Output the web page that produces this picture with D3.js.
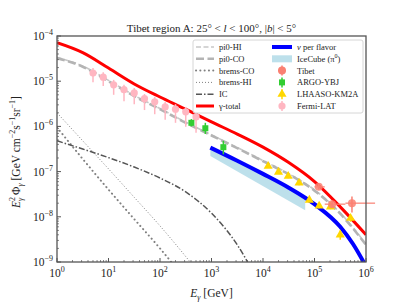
<!DOCTYPE html>
<html>
<head>
<meta charset="utf-8">
<script src="https://cdn.jsdelivr.net/npm/d3@7"></script>
<style>
body { margin: 0; background: #fff; }
text { font-family: "Liberation Serif", "DejaVu Serif", serif; fill: #222; }
</style>
</head>
<body>
<script>
// model curves, energy in GeV, E^2 flux in GeV cm^-2 s^-1 sr^-1
var curve_E   = [1, 3.16, 10, 31.6, 100, 316, 1000, 3162, 1e4, 3.16e4, 1e5, 3.16e5, 1e6];
var total     = [7.08e-5, 4.27e-5, 1.95e-5, 8.7e-6, 4.47e-6, 2.4e-6, 1.26e-6, 6.76e-7, 3.47e-7, 1.58e-7, 6.0e-8, 1.66e-8, 4.0e-9];
var pi0_CO    = [3.24e-5, 2.09e-5, 1.0e-5, 4.68e-6, 2.4e-6, 1.2e-6, 6.3e-7, 3.3e-7, 1.7e-7, 8.7e-8, 3.8e-8, 1.17e-8, 2.4e-9];
var pi0_HI    = [3.35e-5, 2.16e-5, 1.04e-5, 4.85e-6, 2.48e-6, 1.24e-6, 6.5e-7, 3.4e-7, 1.76e-7, 9.0e-8, 3.95e-8, 1.22e-8, 2.5e-9];

var brems_E   = [1, 3.16, 10, 31.6, 100, 316, 1000];
var brems_HI  = [2.0e-6, 4.8e-7, 1.15e-7, 2.7e-8, 6.3e-9, 1.32e-9, 2.5e-10];
var brems_CO  = [9.5e-7, 1.9e-7, 4.0e-8, 8.9e-9, 2.0e-9, 4.0e-10, 8e-11];

var ic_E      = [1, 3.16, 10, 31.6, 100, 316, 1000, 3162, 1e4];
var ic        = [4.8e-7, 3.16e-7, 2.04e-7, 1.26e-7, 7.2e-8, 3.55e-8, 1.2e-8, 2.4e-9, 2.2e-10];

var nu_E      = [950, 3162, 1e4, 3.16e4, 1e5, 3.16e5, 5.6e5, 1e6];
var nu        = [3.4e-7, 1.74e-7, 8.9e-8, 4.4e-8, 1.9e-8, 6.0e-9, 2.5e-9, 8e-10];

var icecube_E  = [950, 6.6e4];
var icecube_hi = [3.4e-7, 2.75e-8];
var icecube_lo = [2.2e-7, 1.4e-8];

// data points
var fermi_E  = [5.0, 7.9, 12.6, 20, 31.6, 50, 79, 126, 200, 316, 501];
var fermi    = [1.51e-5, 1.23e-5, 8.3e-6, 6.5e-6, 5.5e-6, 4.1e-6, 3.5e-6, 2.7e-6, 2.4e-6, 2.1e-6, 1.62e-6];
var fermi_hi = [1.95e-5, 1.58e-5, 1.07e-5, 8.3e-6, 7.1e-6, 5.2e-6, 4.5e-6, 3.5e-6, 3.1e-6, 2.7e-6, 2.1e-6];
var fermi_lo = [9.5e-6, 7.8e-6, 5.0e-6, 3.6e-6, 3.1e-6, 2.3e-6, 1.86e-6, 1.41e-6, 1.2e-6, 9.8e-7, 7.2e-7];

var argo_E  = [407, 759, 1700];
var argo    = [1.2e-6, 9.1e-7, 3.47e-7];
var argo_hi = [1.45e-6, 1.2e-6, 4.8e-7];
var argo_lo = [1.0e-6, 6.8e-7, 2.4e-7];

var lhaaso_E  = [12600, 20000, 30900, 50100, 79400, 123000, 204000, 316000, 501000];
var lhaaso    = [1.32e-7, 9.8e-8, 7.9e-8, 5.6e-8, 2.34e-8, 1.74e-8, 1.66e-8, 4.0e-9, 9.3e-9];
var lhaaso_hi = [1.45e-7, 1.08e-7, 8.7e-8, 6.2e-8, 2.6e-8, 1.95e-8, 1.85e-8, 5.0e-9, 1.1e-8];
var lhaaso_lo = [1.2e-7, 8.9e-8, 7.1e-8, 5.0e-8, 2.1e-8, 1.55e-8, 1.47e-8, 3.1e-9, 7.8e-9];

var tibet_E    = [121000, 220000, 534000];
var tibet      = [4.6e-8, 1.9e-8, 2.0e-8];
var tibet_hi   = [5.3e-8, 2.3e-8, 2.8e-8];
var tibet_lo   = [4.0e-8, 1.6e-8, 1.25e-8];
var tibet_Elo  = [1e5, 1.58e5, 3.98e5];
var tibet_Ehi  = [1.58e5, 3.98e5, 1.5e6];

var x_ticks = [1, 10, 100, 1e3, 1e4, 1e5, 1e6];
var y_ticks = [1e-9, 1e-8, 1e-7, 1e-6, 1e-5, 1e-4];

var margin = {top: 36, left: 57},
    width = 309,
    height = 226;

var svg = d3.select("body").append("svg")
    .attr("width", 407)
    .attr("height", 305);

var g = svg.append("g")
    .attr("transform", "translate(" + margin.left + "," + margin.top + ")");

var x_scale = d3.scaleLog().domain([1, 1e6]).range([0, width]),
    y_scale = d3.scaleLog().domain([1e-9, 1e-4]).range([height, 0]);

g.append("clipPath").attr("id", "plot")
  .append("rect").attr("width", width).attr("height", height);

var zip = function(a, b) { return a.map(function(v, i) { return [v, b[i]]; }); };

var line = d3.line()
    .x(function(d) { return x_scale(d[0]); })
    .y(function(d) { return y_scale(d[1]); })
    .curve(d3.curveMonotoneX);

var plot = g.append("g").attr("clip-path", "url(#plot)");

// IceCube band
var band = d3.area()
    .x(function(d) { return x_scale(d[0]); })
    .y0(function(d) { return y_scale(d[2]); })
    .y1(function(d) { return y_scale(d[1]); });
plot.append("path")
    .datum(icecube_E.map(function(e, i) { return [e, icecube_hi[i], icecube_lo[i]]; }))
    .attr("d", band)
    .style("fill", "#add8e6")
    .style("opacity", 0.8);

var curves = [
  {name: "pi0-HI",   E: curve_E, F: pi0_HI,   color: "#c8c8c8", w: 1.6, dash: "5,2.5"},
  {name: "pi0-CO",   E: curve_E, F: pi0_CO,   color: "#b4b4b4", w: 2.6, dash: "8,3.5"},
  {name: "brems-CO", E: brems_E, F: brems_CO, color: "#808080", w: 2,   dash: "0.1,4.2", cap: "round"},
  {name: "brems-HI", E: brems_E, F: brems_HI, color: "#808080", w: 1,   dash: "1,2"},
  {name: "IC",       E: ic_E,    F: ic,       color: "#555555", w: 1.5, dash: "6,2,1.5,2"},
  {name: "\u03b3-total", E: curve_E, F: total, color: "#ff0000", w: 3, dash: null},
  {name: "\u03bd per flavor", E: nu_E, F: nu, color: "#0000ff", w: 4, dash: null}
];

curves.forEach(function(c) {
  plot.append("path")
      .datum(zip(c.E, c.F))
      .attr("d", line)
      .style("fill", "none")
      .style("stroke", c.color)
      .style("stroke-width", c.w)
      .style("stroke-dasharray", c.dash)
      .style("stroke-linecap", c.cap || "butt");
});

// data points with error bars
function vbar(sel, E, hi, lo, color, w) {
  sel.selectAll(null).data(E).enter().append("line")
      .attr("x1", function(d) { return x_scale(d); })
      .attr("x2", function(d) { return x_scale(d); })
      .attr("y1", function(d, i) { return y_scale(hi[i]); })
      .attr("y2", function(d, i) { return y_scale(lo[i]); })
      .style("stroke", color).style("stroke-width", w);
}

var pts = g.append("g");

vbar(pts, fermi_E, fermi_hi, fermi_lo, "#ffb6c1", 1.5);
pts.selectAll(".fermi").data(fermi_E).enter().append("circle")
    .attr("class", "fermi")
    .attr("r", 3.6)
    .attr("cx", function(d) { return x_scale(d); })
    .attr("cy", function(d, i) { return y_scale(fermi[i]); })
    .style("fill", "#ffb6c1");

vbar(pts, argo_E, argo_hi, argo_lo, "#32cd32", 1.5);
pts.selectAll(".argo").data(argo_E).enter().append("rect")
    .attr("class", "argo")
    .attr("x", function(d) { return x_scale(d) - 3; })
    .attr("y", function(d, i) { return y_scale(argo[i]) - 3; })
    .attr("width", 6).attr("height", 6)
    .style("fill", "#32cd32");

vbar(pts, lhaaso_E, lhaaso_hi, lhaaso_lo, "#ffd700", 1.5);
pts.selectAll(".lhaaso").data(lhaaso_E).enter().append("path")
    .attr("class", "lhaaso")
    .attr("d", d3.symbol().type(d3.symbolTriangle).size(36))
    .attr("transform", function(d, i) { return "translate(" + x_scale(d) + "," + y_scale(lhaaso[i]) + ")"; })
    .style("fill", "#ffd700");

vbar(pts, tibet_E, tibet_hi, tibet_lo, "#fa8072", 1.5);
pts.selectAll(".tibet_h").data(tibet_E).enter().append("line")
    .attr("x1", function(d, i) { return x_scale(tibet_Elo[i]); })
    .attr("x2", function(d, i) { return x_scale(tibet_Ehi[i]); })
    .attr("y1", function(d, i) { return y_scale(tibet[i]); })
    .attr("y2", function(d, i) { return y_scale(tibet[i]); })
    .style("stroke", "#fa8072").style("stroke-width", 1.5).style("opacity", 0.8);
pts.selectAll(".tibet").data(tibet_E).enter().append("circle")
    .attr("class", "tibet")
    .attr("r", 4)
    .attr("cx", function(d) { return x_scale(d); })
    .attr("cy", function(d, i) { return y_scale(tibet[i]); })
    .style("fill", "#fa8072").style("opacity", 0.85);

// frame
g.append("rect")
    .attr("width", width).attr("height", height)
    .style("fill", "none").style("stroke", "#555").style("stroke-width", 1.3);

// ticks (inward), minor ticks at 2..9
var axes = g.append("g").style("stroke", "#555");
x_ticks.forEach(function(t, k) {
  axes.append("line").attr("x1", x_scale(t)).attr("x2", x_scale(t))
      .attr("y1", height).attr("y2", height - 4).style("stroke-width", 1);
  if (k < x_ticks.length - 1) {
    for (var m = 2; m < 10; m++) {
      axes.append("line").attr("x1", x_scale(t * m)).attr("x2", x_scale(t * m))
          .attr("y1", height).attr("y2", height - 2).style("stroke-width", 0.7);
    }
  }
  var lab = g.append("text")
      .attr("x", x_scale(t)).attr("y", height + 15)
      .attr("text-anchor", "middle")
      .style("font-size", "11.5px")
      .text("10");
  lab.append("tspan").attr("dy", -5).style("font-size", "8px").text(Math.round(Math.log10(t)));
});
y_ticks.forEach(function(t, k) {
  axes.append("line").attr("y1", y_scale(t)).attr("y2", y_scale(t))
      .attr("x1", 0).attr("x2", 4).style("stroke-width", 1);
  if (k < y_ticks.length - 1) {
    for (var m = 2; m < 10; m++) {
      axes.append("line").attr("y1", y_scale(t * m)).attr("y2", y_scale(t * m))
          .attr("x1", 0).attr("x2", 2).style("stroke-width", 0.7);
    }
  }
  var lab = g.append("text")
      .attr("x", -4).attr("y", y_scale(t) + 4)
      .attr("text-anchor", "end")
      .style("font-size", "11.5px")
      .text("10");
  lab.append("tspan").attr("dy", -5).style("font-size", "8px")
      .text("\u2212" + Math.round(-Math.log10(t)));
});

// title
var title = svg.append("text")
    .attr("x", margin.left + width / 2).attr("y", 32)
    .attr("text-anchor", "middle")
    .style("font-size", "11px");
title.append("tspan").text("Tibet region A: 25\u00b0 < ");
title.append("tspan").style("font-style", "italic").text("l");
title.append("tspan").text(" < 100\u00b0, |");
title.append("tspan").style("font-style", "italic").text("b");
title.append("tspan").text("| < 5\u00b0");

// x label
var xl = svg.append("text")
    .attr("x", margin.left + width / 2).attr("y", 297)
    .attr("text-anchor", "middle")
    .style("font-size", "11.5px");
xl.append("tspan").style("font-style", "italic").text("E");
xl.append("tspan").attr("dy", 3).style("font-size", "8px").style("font-style", "italic").text("\u03b3");
xl.append("tspan").attr("dy", -3).text(" [GeV]");

// y label
var yl = svg.append("text")
    .attr("transform", "translate(20,152) rotate(-90)")
    .attr("text-anchor", "middle")
    .style("font-size", "11.5px");
yl.append("tspan").style("font-style", "italic").text("E");
yl.append("tspan").attr("dy", -5).style("font-size", "8px").text("2");
yl.append("tspan").attr("dx", -4).attr("dy", 8).style("font-size", "8px").style("font-style", "italic").text("\u03b3");
yl.append("tspan").attr("dy", -3).text(" \u03a6");
yl.append("tspan").attr("dy", 3).style("font-size", "8px").style("font-style", "italic").text("\u03b3");
yl.append("tspan").attr("dy", -3).text(" [GeV cm");
yl.append("tspan").attr("dy", -5).style("font-size", "8px").text("\u22122");
yl.append("tspan").attr("dy", 5).text("s");
yl.append("tspan").attr("dy", -5).style("font-size", "8px").text("\u22121");
yl.append("tspan").attr("dy", 5).text("sr");
yl.append("tspan").attr("dy", -5).style("font-size", "8px").text("\u22121");
yl.append("tspan").attr("dy", 5).text("]");

// legend
var leg = svg.append("g");
leg.append("rect")
    .attr("x", 193).attr("y", 40).attr("width", 170).attr("height", 73).attr("rx", 2)
    .style("fill", "#fff").style("fill-opacity", 0.85)
    .style("stroke", "#ccc").style("stroke-width", 0.8);

var row_y = function(i) { return 47 + i * 11.8; };

curves.slice(0, 6).forEach(function(c, i) {
  leg.append("line")
      .attr("x1", 196).attr("x2", 214).attr("y1", row_y(i)).attr("y2", row_y(i))
      .style("stroke", c.color).style("stroke-width", c.w)
      .style("stroke-dasharray", c.dash)
      .style("stroke-linecap", c.cap || "butt");
  leg.append("text").attr("x", 219).attr("y", row_y(i) + 3)
      .style("font-size", "8.5px").text(c.name);
});

var lx = 282;
leg.append("line").attr("x1", 272).attr("x2", 292).attr("y1", row_y(0)).attr("y2", row_y(0))
    .style("stroke", "#0000ff").style("stroke-width", 4);
leg.append("rect").attr("x", 272).attr("y", row_y(1) - 3.5).attr("width", 20).attr("height", 7)
    .style("fill", "#add8e6").style("opacity", 0.8);
// Tibet
leg.append("line").attr("x1", lx - 4).attr("x2", lx + 4).attr("y1", row_y(2)).attr("y2", row_y(2))
    .style("stroke", "#fa8072").style("stroke-width", 1.5);
leg.append("line").attr("x1", lx).attr("x2", lx).attr("y1", row_y(2) - 5).attr("y2", row_y(2) + 5)
    .style("stroke", "#fa8072").style("stroke-width", 1.5);
leg.append("circle").attr("cx", lx).attr("cy", row_y(2)).attr("r", 4).style("fill", "#fa8072");
// ARGO
leg.append("line").attr("x1", lx).attr("x2", lx).attr("y1", row_y(3) - 5).attr("y2", row_y(3) + 5)
    .style("stroke", "#32cd32").style("stroke-width", 1.5);
leg.append("rect").attr("x", lx - 3).attr("y", row_y(3) - 3).attr("width", 6).attr("height", 6)
    .style("fill", "#32cd32");
// LHAASO
leg.append("line").attr("x1", lx).attr("x2", lx).attr("y1", row_y(4) - 5).attr("y2", row_y(4) + 5)
    .style("stroke", "#ffd700").style("stroke-width", 1.5);
leg.append("path").attr("d", d3.symbol().type(d3.symbolTriangle).size(36))
    .attr("transform", "translate(" + lx + "," + row_y(4) + ")").style("fill", "#ffd700");
// Fermi
leg.append("line").attr("x1", lx).attr("x2", lx).attr("y1", row_y(5) - 5).attr("y2", row_y(5) + 5)
    .style("stroke", "#ffb6c1").style("stroke-width", 1.5);
leg.append("circle").attr("cx", lx).attr("cy", row_y(5)).attr("r", 3.6).style("fill", "#ffb6c1");

var right_names = ["\u03bd per flavor", "IceCube (\u03c0", "Tibet", "ARGO-YBJ", "LHAASO-KM2A", "Fermi-LAT"];
right_names.forEach(function(n, i) {
  var t = leg.append("text").attr("x", 297).attr("y", row_y(i) + 3)
      .style("font-size", "8.5px");
  if (i === 0) {
    t.append("tspan").style("font-style", "italic").text("\u03bd");
    t.append("tspan").text(" per flavor");
  } else if (i === 1) {
    t.text(n);
    t.append("tspan").attr("dy", -4).style("font-size", "6px").text("0");
    t.append("tspan").attr("dy", 4).text(")");
  } else {
    t.text(n);
  }
});
</script>
</body>
</html>
